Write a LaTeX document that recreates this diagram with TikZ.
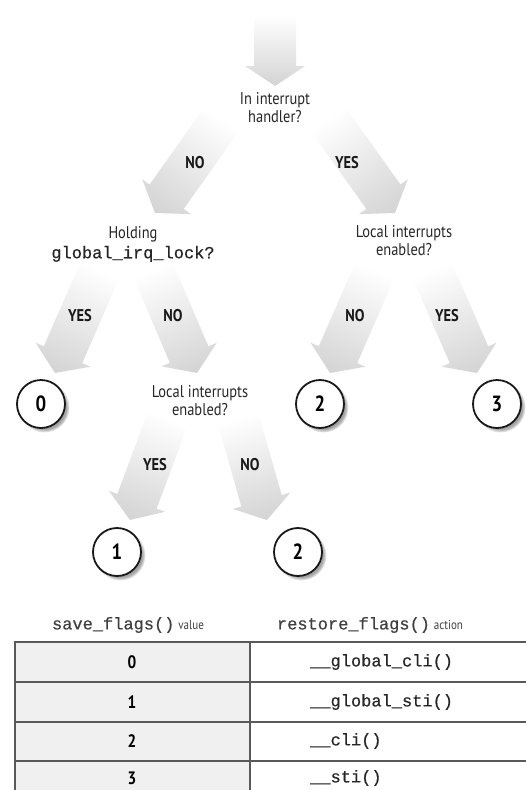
\documentclass[tikz,border=0pt]{standalone}
\usepackage{fontspec}
\setmainfont{PT Sans}[FakeStretch=0.85]
\setmonofont{Liberation Mono}[FakeBold=0.6]
\usetikzlibrary{shadows}

\pgfdeclarehorizontalshading{arrowshade}{100bp}{color(0bp)=(white); color(25bp)=(white); color(45bp)=(black!7); color(75bp)=(black!17); color(100bp)=(black!17)}

\newcommand\blockarrow[2]{%
  \path (#1); \pgfgetlastxy{\bax}{\bay}%
  \path (#2); \pgfgetlastxy{\bbx}{\bby}%
  \pgfmathsetmacro\bang{atan2((\bby)-(\bay),(\bbx)-(\bax))}%
  \pgfmathsetmacro\blen{veclen((\bbx)-(\bax),(\bby)-(\bay))}%
  \shade[arrowfill, transform canvas={shift={(\bax,\bay)},rotate=\bang}]
    (0,-21) -- (\blen-20,-21) -- (\blen-20,-30) -- (\blen,0) --
    (\blen-20,30) -- (\blen-20,21) -- (0,21) -- cycle;
}

\tikzset{
  qtext/.style={align=center, font=\fontsize{17}{18}\selectfont, inner sep=0pt, text=black!85},
  branch/.style={font=\bfseries\fontsize{17}{17}\selectfont, inner sep=0pt, text=black!90},
  outcome/.style={circle, draw=black!90, line width=1.8pt, fill=white, minimum size=48pt,
    inner sep=0pt, font=\bfseries\fontsize{22}{22}\selectfont,
    circular drop shadow={shadow xshift=3pt, shadow yshift=-3pt, shadow scale=1.06, fill=black!60, opacity=0.6}},
  arrowfill/.style={shading=arrowshade, draw=none},
  tableline/.style={draw=black!65, line width=1.4pt},
  codetext/.style={font=\ttfamily\fontsize{17}{17}\selectfont, inner sep=0pt, text=black!85},
  numtext/.style={font=\bfseries\fontsize{18}{18}\selectfont, inner sep=0pt},
  headtext/.style={font=\fontsize{17}{17}\selectfont, inner sep=0pt, text=black!75},
}

\begin{document}
\begin{tikzpicture}[x=1pt, y=-1pt]
\useasboundingbox (0,0) rectangle (526,790);

% arrow end points
\coordinate (a0t) at (275,15);  \coordinate (a0h) at (275,86);
\coordinate (a1t) at (222,119); \coordinate (a1h) at (155,213);
\coordinate (a2t) at (328,119); \coordinate (a2h) at (395,213);
\coordinate (a3t) at (100,270); \coordinate (a3h) at (55,373);
\coordinate (a4t) at (153,270); \coordinate (a4h) at (197,373);
\coordinate (a5t) at (375,270); \coordinate (a5h) at (330,373);
\coordinate (a6t) at (432,270); \coordinate (a6h) at (477,373);
\coordinate (a7t) at (168,418); \coordinate (a7h) at (130,520);
\coordinate (a8t) at (238,418); \coordinate (a8h) at (267,520);

\blockarrow{a0t}{a0h}
\blockarrow{a1t}{a1h}
\blockarrow{a2t}{a2h}
\blockarrow{a3t}{a3h}
\blockarrow{a4t}{a4h}
\blockarrow{a5t}{a5h}
\blockarrow{a6t}{a6h}
\blockarrow{a7t}{a7h}
\blockarrow{a8t}{a8h}

% questions
\node[qtext] (q0) at (275,108) {In interrupt\\handler?};
\node[qtext] (q1) at (133,244) {Holding\\[2pt]{\ttfamily\fontsize{17}{17}\selectfont global\_irq\_lock?}};
\node[qtext] (q2) at (404,241) {Local interrupts\\enabled?};
\node[qtext] (q3) at (200,401) {Local interrupts\\enabled?};

% branch labels
\node[branch] (l1) at (195,163) {NO};
\node[branch] (l2) at (347,163) {YES};
\node[branch] (l3) at (80,316) {YES};
\node[branch] (l4) at (173,316) {NO};
\node[branch] (l5) at (355,316) {NO};
\node[branch] (l6) at (447,316) {YES};
\node[branch] (l7) at (155,465) {YES};
\node[branch] (l8) at (250,465) {NO};

% outcomes
\node[outcome] (o0) at (41,404) {0};
\node[outcome] (o2a) at (320,404) {2};
\node[outcome] (o3) at (497,404) {3};
\node[outcome] (o1) at (117,552) {1};
\node[outcome] (o2b) at (298,552) {2};

% table
\fill[black!6] (15,642) rectangle (250,790);
\draw[tableline] (526,642) -- (15,642) -- (15,790);
\draw[tableline] (250,642) -- (250,790);
\draw[tableline] (15,682) -- (526,682);
\draw[tableline] (15,722) -- (526,722);
\draw[tableline] (15,761) -- (526,761);

\node[headtext] (h1) at (128,625) {{\ttfamily save\_flags()} {\fontsize{13}{13}\selectfont value}};
\node[headtext] (h2) at (370,625) {{\ttfamily restore\_flags()} {\fontsize{13}{13}\selectfont action}};

\node[numtext] (v0) at (132,662) {0};
\node[numtext] (v1) at (132,702) {1};
\node[numtext] (v2) at (132,741) {2};
\node[numtext] (v3) at (132,778) {3};

\node[codetext, anchor=west] (r0) at (310,662) {\_\_global\_cli()};
\node[codetext, anchor=west] (r1) at (310,702) {\_\_global\_sti()};
\node[codetext, anchor=west] (r2) at (310,741) {\_\_cli()};
\node[codetext, anchor=west] (r3) at (310,778) {\_\_sti()};
\end{tikzpicture}
\end{document}
